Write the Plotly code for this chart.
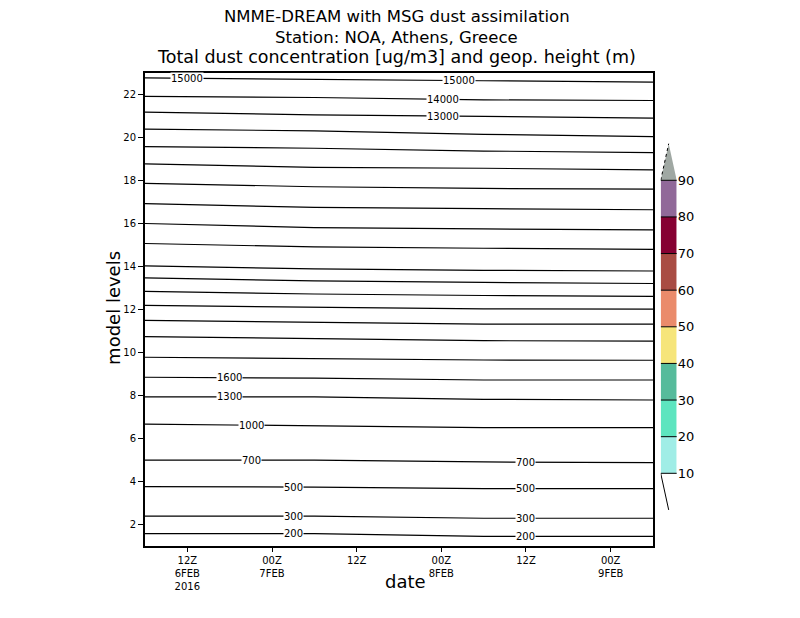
import plotly.graph_objects as go
import numpy as np

# time axis: hours since 2016-02-06 00Z
times = [6, 30, 54, 78]
tick_hours = [12, 24, 36, 48, 60, 72]
tick_text = ["12Z<br>6FEB<br>2016", "00Z<br>7FEB", "12Z", "00Z<br>8FEB", "12Z", "00Z<br>9FEB"]

# geopotential height contours (m) and their model-level position at each time
height_values = [15000, 14000, 13000, 12000, 11000, 10000, 9000, 8000, 7000, 6000,
                 5000, 4500, 4000, 3500, 3000, 2500, 2000, 1600, 1300, 1000, 700, 500, 300, 200]
height_levels = [
    [22.77, 22.72, 22.64, 22.58],
    [21.91, 21.86, 21.75, 21.72],
    [21.18, 21.05, 20.98, 20.90],
    [20.39, 20.31, 20.15, 20.04],
    [19.58, 19.50, 19.37, 19.30],
    [18.77, 18.61, 18.57, 18.49],
    [17.87, 17.71, 17.63, 17.60],
    [16.92, 16.75, 16.69, 16.64],
    [16.00, 15.81, 15.75, 15.70],
    [15.07, 14.91, 14.85, 14.80],
    [14.03, 13.89, 13.82, 13.79],
    [13.47, 13.33, 13.26, 13.21],
    [12.84, 12.72, 12.65, 12.61],
    [12.19, 12.11, 12.03, 12.02],
    [11.49, 11.39, 11.32, 11.32],
    [10.74, 10.63, 10.55, 10.53],
    [9.78, 9.73, 9.65, 9.64],
    [8.85, 8.81, 8.72, 8.72],
    [7.94, 7.94, 7.82, 7.79],
    [6.67, 6.59, 6.51, 6.51],
    [4.99, 4.99, 4.91, 4.88],
    [3.76, 3.74, 3.67, 3.67],
    [2.39, 2.39, 2.29, 2.29],
    [1.58, 1.58, 1.45, 1.45],
]

# contour labels: value and time where they sit
label_values = [15000, 15000, 14000, 13000, 1600, 1300, 1000, 700, 500, 300, 200, 700, 500, 300, 200]
label_hours = [12, 50.5, 48.2, 48.2, 18, 18, 21.1, 21.1, 27, 27, 27, 60, 60, 60, 60]

# dust colour bar
dust_levels = [10, 20, 30, 40, 50, 60, 70, 80, 90]
dust_colors = ["#a0ede6", "#5de5bf", "#56bb9b", "#f6e57a", "#ea8b6b", "#a94c43", "#860032", "#916999"]
dust_top_color = "#a0a8a3"

FONT = "DejaVu Sans"

fig = go.Figure()

for val, lev in zip(height_values, height_levels):
    fig.add_trace(go.Scatter(x=times, y=lev, mode="lines", line=dict(color="black", width=1.2),
                             name=str(val), showlegend=False, hoverinfo="skip"))

annotations = []
for val, hr in zip(label_values, label_hours):
    lev = height_levels[height_values.index(val)]
    annotations.append(dict(x=hr, y=float(np.interp(hr, times, lev)), xref="x", yref="y",
                            text=str(val), showarrow=False, bgcolor="white", borderpad=0,
                            font=dict(family=FONT, size=10, color="black")))

# colour bar drawn as stacked bars on its own axes
band_lo = dust_levels[:-1]
band_h = [b - a for a, b in zip(dust_levels[:-1], dust_levels[1:])]
fig.add_trace(go.Bar(x=[0.5] * len(band_lo), y=band_h, base=band_lo, width=1,
                     marker=dict(color=dust_colors, line=dict(width=0)),
                     xaxis="x2", yaxis="y2", showlegend=False, hoverinfo="skip"))
step = band_h[-1]
top = dust_levels[-1]
fig.add_trace(go.Scatter(x=[0, 0.5, 1, 0], y=[top, top + step, top, top], fill="toself",
                         fillcolor=dust_top_color, mode="none", xaxis="x2", yaxis="y2",
                         showlegend=False, hoverinfo="skip"))
fig.add_trace(go.Scatter(x=[0, 0.5], y=[top, top + step], mode="lines",
                         line=dict(color="black", width=1, dash="dot"),
                         xaxis="x2", yaxis="y2", showlegend=False, hoverinfo="skip"))
bot = dust_levels[0]
fig.add_trace(go.Scatter(x=[0, 0.5], y=[bot, bot - step], mode="lines",
                         line=dict(color="black", width=1),
                         xaxis="x2", yaxis="y2", showlegend=False, hoverinfo="skip"))
sx, sy = [], []
for lv in dust_levels:
    sx += [0, 1.1, None]
    sy += [lv, lv, None]
fig.add_trace(go.Scatter(x=sx, y=sy, mode="lines", line=dict(color="black", width=1),
                         xaxis="x2", yaxis="y2", showlegend=False, hoverinfo="skip"))

# titles
for txt, yp, fs in zip(["NMME-DREAM with MSG dust assimilation",
                        "Station: NOA, Athens, Greece",
                        "Total dust concentration [ug/m3] and geop. height (m)"],
                       [1.1184, 1.0761, 1.0338], [16.5, 16.5, 17.5]):
    annotations.append(dict(x=0.454, y=yp, xref="paper", yref="paper", text=txt,
                            showarrow=False, xanchor="center", yanchor="middle",
                            font=dict(family=FONT, size=fs, color="black")))
annotations.append(dict(x=-0.058, y=0.503, xref="paper", yref="paper", text="model levels",
                        textangle=-90, showarrow=False, xanchor="center", yanchor="middle",
                        font=dict(family=FONT, size=18, color="black")))
annotations.append(dict(x=0.4685, y=-0.076, xref="paper", yref="paper", text="date",
                        showarrow=False, xanchor="center", yanchor="middle",
                        font=dict(family=FONT, size=18, color="black")))

fig.update_layout(
    width=800, height=618,
    margin=dict(l=137, r=108, t=65, b=80),
    paper_bgcolor="white", plot_bgcolor="white",
    barmode="overlay",
    annotations=annotations,
    xaxis=dict(domain=[0, 0.9153], range=[6, 78], tickvals=tick_hours, ticktext=tick_text,
               showline=True, mirror=True, linewidth=2, linecolor="black",
               ticks="outside", ticklen=4, tickwidth=1, tickcolor="black",
               showgrid=False, zeroline=False,
               tickfont=dict(family=FONT, size=10, color="black")),
    yaxis=dict(range=[1, 23], tickvals=list(range(2, 23, 2)),
               showline=True, mirror=True, linewidth=2, linecolor="black",
               ticks="outside", ticklen=5, tickwidth=1, tickcolor="black",
               showgrid=False, zeroline=False,
               tickfont=dict(family=FONT, size=10, color="black")),
    xaxis2=dict(domain=[0.9292, 0.958], range=[0, 1], visible=False, fixedrange=True),
    yaxis2=dict(domain=[0, 1], range=[-9.85, 119.3], anchor="x2", side="right",
                tickvals=dust_levels, ticks="", showgrid=False, zeroline=False, showline=False,
                tickfont=dict(family=FONT, size=13, color="black")),
)

fig.write_html("out.html")
